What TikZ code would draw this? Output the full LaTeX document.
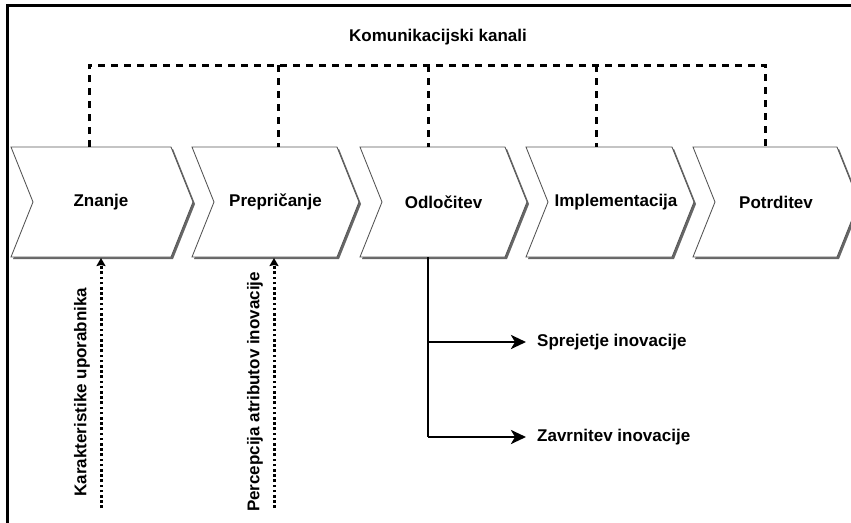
\documentclass[tikz,border=0pt]{standalone}
\usepackage{fontspec}
\setmainfont{Liberation Sans}
\usetikzlibrary{arrows.meta}
\newcommand\mkchev[5]{%
  \path[chevshadow] (#2+2,149) -- (#3+2,149) -- (#3+24,204) -- (#3+2,259) -- (#2+2,259) -- (#2+24,204) -- cycle;
  \path[chevbox] (#2,147) -- (#3,147) -- (#3+22,202) -- (#3,257) -- (#2,257) -- (#2+22,202) -- cycle;
  \node[lab] (#1) at ({(#2+#3+22)/2+#5},202) {#4};
}
\begin{document}
\begin{tikzpicture}[x=1pt,y=-1pt,
  lab/.style={font=\fontsize{17}{20}\selectfont\bfseries, inner sep=1pt},
  chevbox/.style={fill=white, draw=black!65, line width=0.9pt, line join=miter},
  chevshadow/.style={fill=black!60},
  chan/.style={line width=3pt, dash pattern=on 7pt off 6pt},
  infl/.style={line width=3pt, dash pattern=on 2.6pt off 2.6pt, -{Stealth[length=8pt,width=9pt,inset=1pt]}},
  outc/.style={line width=2.8pt, -{Stealth[length=15pt,width=14pt,inset=4pt]}},
  frame/.style={line width=3pt}]
\useasboundingbox (0,0) rectangle (851,522);
\draw[frame] (7,530) -- (7,5) -- (860,5);
\node[lab] (kanali) at (438,37) {Komunikacijski kanali};
\mkchev{znanje}{11}{171}{Znanje}{-1}
\mkchev{prep}{192}{337}{Prepričanje}{0}
\mkchev{odl}{360}{505}{Odločitev}{0}
\mkchev{impl}{526}{672}{Implementacija}{6}
\mkchev{potr}{693}{837}{Potrditev}{0}
% channel drops
\coordinate (t1) at (89,147);
\coordinate (t2) at (278,147);
\coordinate (t3) at (428,147);
\coordinate (t4) at (596,147);
\coordinate (t5) at (765,147);
\coordinate (bus) at (0,65);
\draw[chan] (t1) -- (t1 |- bus) -- (t5 |- bus) -- (t5);
\draw[chan] (t2 |- bus) -- (t2);
\draw[chan] (t3 |- bus) -- (t3);
\draw[chan] (t4 |- bus) -- (t4);
% influences
\coordinate (b1) at (101,258);
\coordinate (b2) at (274,258);
\coordinate (s1) at (101,508);
\coordinate (s2) at (274,508);
\draw[infl] (s1) -- (b1);
\draw[infl] (s2) -- (b2);
\node[lab, rotate=90] (kar) at (82,392) {Karakteristike uporabnika};
\node[lab, rotate=90] (perc) at (255,392) {Percepcija atributov inovacije};
% decision outcomes
\coordinate (o0) at (428,257);
\coordinate (o1) at (428,342);
\coordinate (o2) at (428,437);
\node[lab, anchor=west] (spr) at (536,342) {Sprejetje inovacije};
\node[lab, anchor=west] (zav) at (536,437) {Zavrnitev inovacije};
\draw[line width=2.8pt] (o0) -- (o2);
\draw[outc] (o1) -- ([xshift=-10pt]spr.west);
\draw[outc] (o2) -- ([xshift=-10pt]zav.west);
\end{tikzpicture}
\end{document}
